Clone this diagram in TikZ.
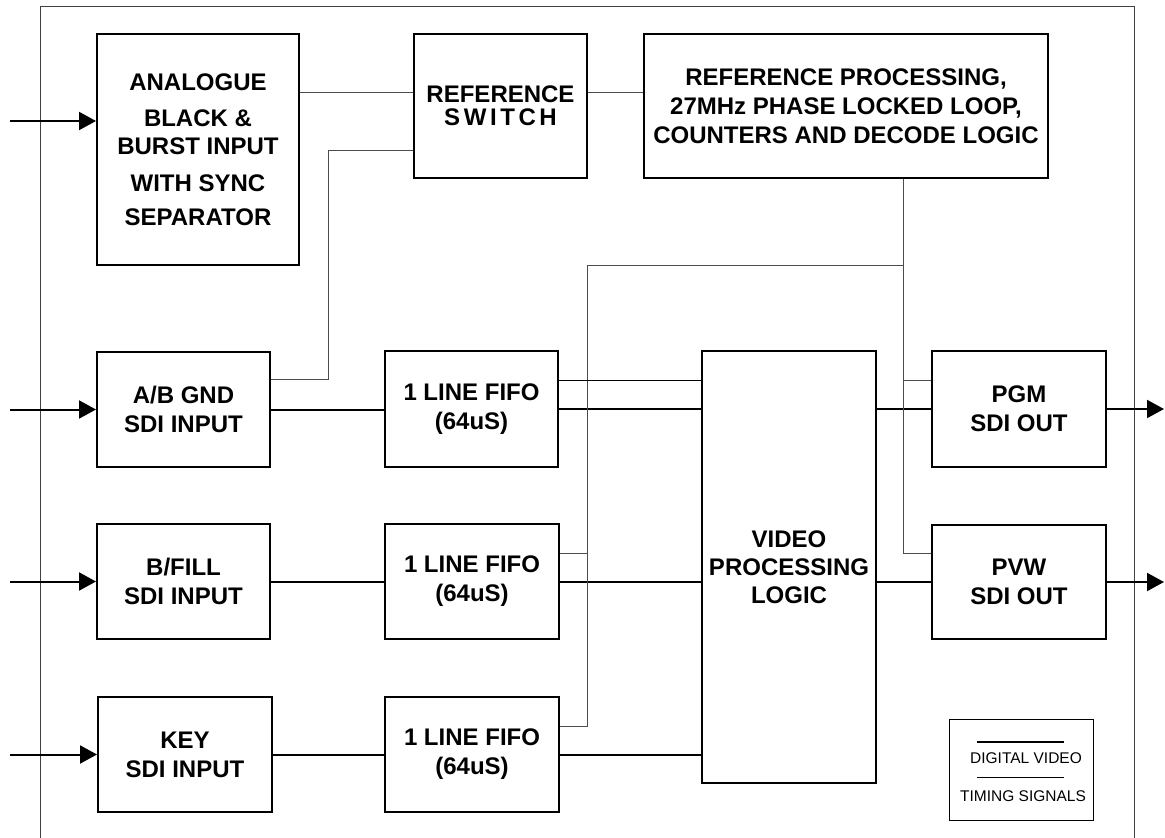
\documentclass[tikz,border=0pt]{standalone}
\usepackage{fontspec}
\setmainfont{Liberation Sans}
\usetikzlibrary{arrows.meta}
\begin{document}
\begin{tikzpicture}[x=1pt,y=-1pt,
  blk/.style={draw, line width=2pt, inner sep=0pt, align=center,
    font=\bfseries\fontsize{24}{29}\selectfont},
  sig/.style={line width=2pt},
  tim/.style={line width=0.9pt, black!70},
  arr/.style={-{Triangle[length=17pt,width=18pt]}},
  frm/.style={line width=1pt, black!75},
  lgtext/.style={inner sep=0pt, font=\fontsize{15.5}{18}\selectfont}]
\useasboundingbox (0,0) rectangle (1165,838);
% outer frame
\draw[frm] (40,838) -- (40,6) -- (1134,6) -- (1134,838);
% blocks
\node[blk, minimum width=202pt, minimum height=231pt] (ana) at (198,149.5)
  {ANALOGUE\\[7pt]BLACK \&\\[-1pt]BURST INPUT\\[8pt]WITH SYNC\\[5pt]SEPARATOR};
\node[blk, minimum width=173pt, minimum height=144pt, font=\bfseries\fontsize{24}{23}\selectfont] (sw) at (500.5,106)
  {REFERENCE\\{\addfontfeature{LetterSpace=15}SWITCH}};
\node[blk, minimum width=404pt, minimum height=144pt] (rp) at (846,106)
  {REFERENCE PROCESSING,\\27MHz PHASE LOCKED LOOP,\\COUNTERS AND DECODE LOGIC};
\node[blk, minimum width=173pt, minimum height=115pt] (ab) at (183.5,409.5) {A/B GND\\SDI INPUT};
\node[blk, minimum width=173pt, minimum height=115pt] (bf) at (183.5,581.5) {B/FILL\\SDI INPUT};
\node[blk, minimum width=174pt, minimum height=115pt] (key) at (185,754.5) {KEY\\SDI INPUT};
\node[blk, minimum width=173pt, minimum height=116pt] (f1) at (471.5,409) {1 LINE FIFO\\(64uS)};
\node[blk, minimum width=174pt, minimum height=115pt] (f2) at (472,581.5) {1 LINE FIFO\\(64uS)};
\node[blk, minimum width=174pt, minimum height=115pt] (f3) at (472,754.5) {1 LINE FIFO\\(64uS)};
\node[blk, minimum width=174pt, minimum height=432pt, font=\bfseries\fontsize{24}{28}\selectfont] (vp) at (789,567) {VIDEO\\PROCESSING\\LOGIC};
\node[blk, minimum width=174pt, minimum height=116pt] (pgm) at (1019,409) {PGM\\SDI OUT};
\node[blk, minimum width=174pt, minimum height=114pt] (pvw) at (1019,582) {PVW\\SDI OUT};
% inputs
\coordinate (ina) at (10,121);
\coordinate (inab) at (10,409.5);
\coordinate (inbf) at (10,581.5);
\coordinate (inkey) at (10,754.5);
\draw[sig,arr] (ina) -- (ina -| ana.west);
\draw[sig,arr] (inab) -- (ab.west);
\draw[sig,arr] (inbf) -- (bf.west);
\draw[sig,arr] (inkey) -- (key.west);
% digital video paths
\draw[sig] (ab.east) -- (ab.east -| f1.west);
\draw[sig] (bf.east) -- (bf.east -| f2.west);
\draw[sig] (key.east) -- (key.east -| f3.west);
\draw[sig] (f1.east) -- (f1.east -| vp.west);
\draw[sig] (f2.east) -- (f2.east -| vp.west);
\draw[sig] (f3.east) -- (f3.east -| vp.west);
\draw[sig] (pgm.west -| vp.east) -- (pgm.west);
\draw[sig] (pvw.west -| vp.east) -- (pvw.west);
\coordinate (outpgm) at (1164,409);
\coordinate (outpvw) at (1164,582);
\draw[sig,arr] (pgm.east) -- (outpgm);
\draw[sig,arr] (pvw.east) -- (outpvw);
% timing signals
\draw[tim] ([yshift=57.5pt]ana.east) -- ([yshift=57.5pt]ana.east -| sw.west);
\draw[tim] ([yshift=14pt]sw.east) -- ([yshift=14pt]sw.east -| rp.west);
\coordinate (j1) at (328,150);
\draw[tim] ([yshift=30.5pt]ab.east) -| (j1) -- (j1 -| sw.west);
\draw[tim] ([xshift=57pt]rp.south) |- ([yshift=29pt]pvw.west);
\coordinate (bus) at (903,265);
\coordinate (bus2) at (587,265);
\draw[tim] ([yshift=29pt]pgm.west) -- ([yshift=29pt]pgm.west -| bus);
\draw[tim] (bus) -- (bus2) |- ([yshift=28.5pt]f3.east);
\draw[tim] ([yshift=28.5pt]f2.east) -- ([yshift=28.5pt]f2.east -| bus2);
\draw[tim, black] ([yshift=29pt]f1.east) -- ([yshift=29pt]f1.east -| vp.west);
% legend
\node[draw, line width=1pt, minimum width=144pt, minimum height=101pt, inner sep=0pt] (leg) at (1021,769.5) {};
\draw[sig] (977,742) -- (1064,742);
\draw[tim, black] (977,777) -- (1064,777);
\node[lgtext] (lgv) at (1026,758) {DIGITAL VIDEO};
\node[lgtext] (lgt) at (1023,796) {TIMING SIGNALS};
\end{tikzpicture}
\end{document}
